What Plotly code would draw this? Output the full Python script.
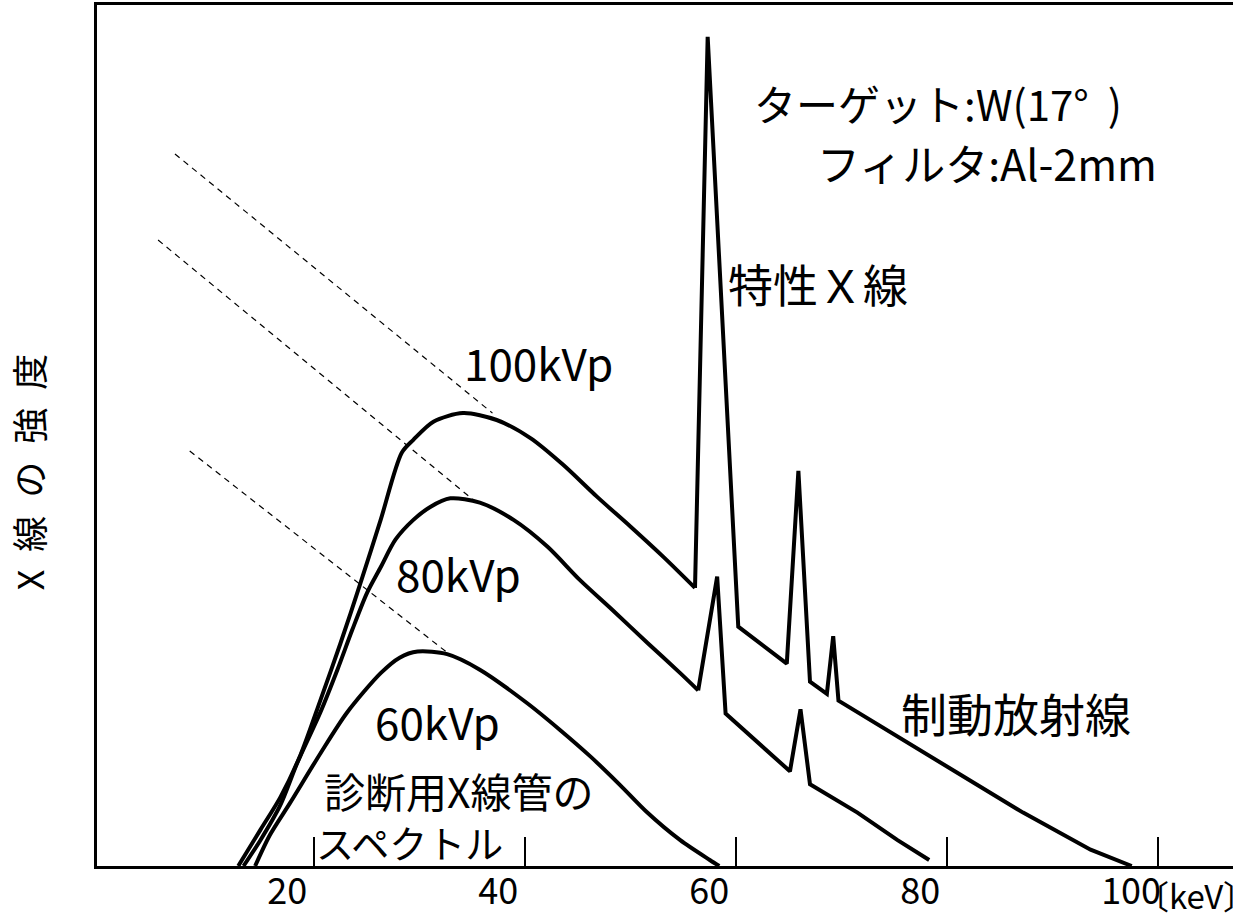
import plotly.graph_objects as go

# ---------------- data (energy in keV, intensity in relative units) ----------------
# 100 kVp : continuous (bremsstrahlung) part
kev_100_cont = [12.8, 14.9, 16.8, 18.7, 20.6, 22.5, 24.4, 26.3, 28.3, 29.4, 31.3, 34.1,
                37.3, 40.5, 43.6, 46.8, 50.0, 53.1, 56.1]
int_100_cont = [0.0, 4.2, 8.0, 12.9, 19.3, 25.9, 32.9, 40.2, 48.0, 49.5, 51.6, 52.6,
                51.8, 49.7, 46.6, 42.9, 39.4, 35.9, 32.3]
# 100 kVp : characteristic lines and tail
kev_100_line = [56.1, 57.3, 60.2, 64.8, 65.9, 67.0, 68.6, 69.2, 69.7, 74.6, 81.0, 87.2, 93.6, 97.5]
int_100_line = [32.3, 96.3, 27.8, 23.5, 45.9, 21.4, 20.0, 26.7, 19.2, 15.5, 10.8, 6.2, 1.9, 0.0]

# 80 kVp
kev_80_cont = [13.3, 14.9, 16.8, 18.4, 20.6, 22.2, 23.6, 25.0, 26.3, 27.7, 29.4, 31.0, 32.9,
               35.7, 38.9, 42.1, 45.2, 48.3, 51.6, 54.7, 56.4]
int_80_cont = [0.0, 3.0, 7.1, 12.0, 17.9, 22.8, 27.4, 31.7, 34.7, 37.9, 40.2, 41.7, 42.7,
               42.2, 40.2, 37.1, 33.2, 29.7, 25.9, 22.4, 20.4]
kev_80_line = [56.4, 58.2, 59.0, 65.1, 66.1, 67.0, 71.5, 75.3, 78.3]
int_80_line = [20.4, 33.6, 17.7, 11.0, 18.2, 9.5, 6.2, 3.0, 0.7]

# 60 kVp
kev_60 = [14.4, 15.8, 17.7, 20.6, 23.1, 26.3, 28.1, 29.8, 32.6, 35.7, 40.2, 43.3, 46.2,
          49.0, 51.5, 54.7, 57.5, 58.4]
int_60 = [0.0, 3.6, 7.3, 13.1, 17.8, 22.4, 24.2, 24.9, 24.6, 22.8, 18.9, 15.8, 12.7,
          9.4, 6.3, 3.0, 0.7, 0.0]

# dashed guide lines (start / end)
guide_kev_start = [6.8, 5.2, 8.2]
guide_int_start = [82.7, 72.7, 48.2]
guide_kev_end = [36.9, 35.1, 32.7]
guide_int_end = [52.6, 42.5, 24.7]

tick_values = [20, 40, 60, 80, 100]
tick_labels = ["20", "40", "60", "80", "100"]

FONT = "Noto Sans CJK JP"
BLACK = "#000000"

fig = go.Figure()

curve_line = dict(color=BLACK, width=4)
fig.add_trace(go.Scatter(x=kev_100_cont, y=int_100_cont, mode="lines",
                         line=dict(shape="spline", smoothing=0.8, **curve_line), name="100kVp"))
fig.add_trace(go.Scatter(x=kev_100_line, y=int_100_line, mode="lines",
                         line=dict(shape="linear", **curve_line), name="100kVp lines"))
fig.add_trace(go.Scatter(x=kev_80_cont, y=int_80_cont, mode="lines",
                         line=dict(shape="spline", smoothing=0.8, **curve_line), name="80kVp"))
fig.add_trace(go.Scatter(x=kev_80_line, y=int_80_line, mode="lines",
                         line=dict(shape="linear", **curve_line), name="80kVp lines"))
fig.add_trace(go.Scatter(x=kev_60, y=int_60, mode="lines",
                         line=dict(shape="spline", smoothing=0.8, **curve_line), name="60kVp"))

for xs, ys, xe, ye in zip(guide_kev_start, guide_int_start, guide_kev_end, guide_int_end):
    fig.add_trace(go.Scatter(x=[xs, xe], y=[ys, ye], mode="lines",
                             line=dict(color=BLACK, width=1.2, dash="6px,5px"),
                             hoverinfo="skip"))

annotations = [
    dict(text="ターゲット:W(17°  )", x=79.1, y=88.7, size=42),
    dict(text="フィルタ:Al-2mm", x=83.8, y=81.8, size=43),
    dict(text="特性Ｘ線", x=67.8, y=67.7, size=45),
    dict(text="100kVp", x=41.3, y=58.5, size=44),
    dict(text="80kVp", x=33.7, y=34.0, size=44),
    dict(text="60kVp", x=31.65, y=16.8, size=44),
    dict(text="制動放射線", x=86.55, y=17.9, size=46),
    dict(text="診断用X線管の", x=33.7, y=8.8, size=41),
    dict(text="スペクトル", x=29.0, y=2.8, size=38),
]
for a in annotations:
    fig.add_annotation(text=a["text"], x=a["x"], y=a["y"], xref="x", yref="y",
                       showarrow=False, xanchor="center", yanchor="middle", borderpad=0,
                       font=dict(family=FONT, size=a["size"], color=BLACK))

# unit label; the box is narrowed to the visible ink of the full-width brackets
fig.add_annotation(text="〔keV〕", x=103.6, y=-0.034, xref="x", yref="paper",
                   showarrow=False, xanchor="center", yanchor="middle",
                   width=76, borderpad=0,
                   font=dict(family=FONT, size=33, color=BLACK))

fig.add_annotation(text="X\u2002線\u2002の\u2002強\u2002度", x=-0.061, y=45.8,
                   xref="paper", yref="y",
                   showarrow=False, textangle=-90, xanchor="center", yanchor="middle",
                   font=dict(family=FONT, size=36, color=BLACK))

fig.update_layout(
    width=1233, height=914,
    margin=dict(l=97, r=0, t=5, b=48),
    paper_bgcolor="white", plot_bgcolor="white",
    showlegend=False,
    font=dict(family=FONT, color=BLACK),
    xaxis=dict(range=[-0.59, 107.1], showgrid=False, zeroline=False, automargin=False,
               showline=True, mirror=True, linecolor=BLACK, linewidth=3,
               tickmode="array", tickvals=tick_values, ticktext=tick_labels,
               ticks="inside", ticklen=29, tickwidth=2, tickcolor=BLACK,
               ticklabelshift=-27, ticklabelstandoff=-8,
               tickfont=dict(family=FONT, size=36, color=BLACK)),
    yaxis=dict(range=[0, 100], showgrid=False, zeroline=False, automargin=False,
               showline=True, linecolor=BLACK, linewidth=3,
               showticklabels=False, ticks=""),
)

fig.write_html("out.html", config={"displayModeBar": False},
               post_script="document.body.style.margin='0';")
